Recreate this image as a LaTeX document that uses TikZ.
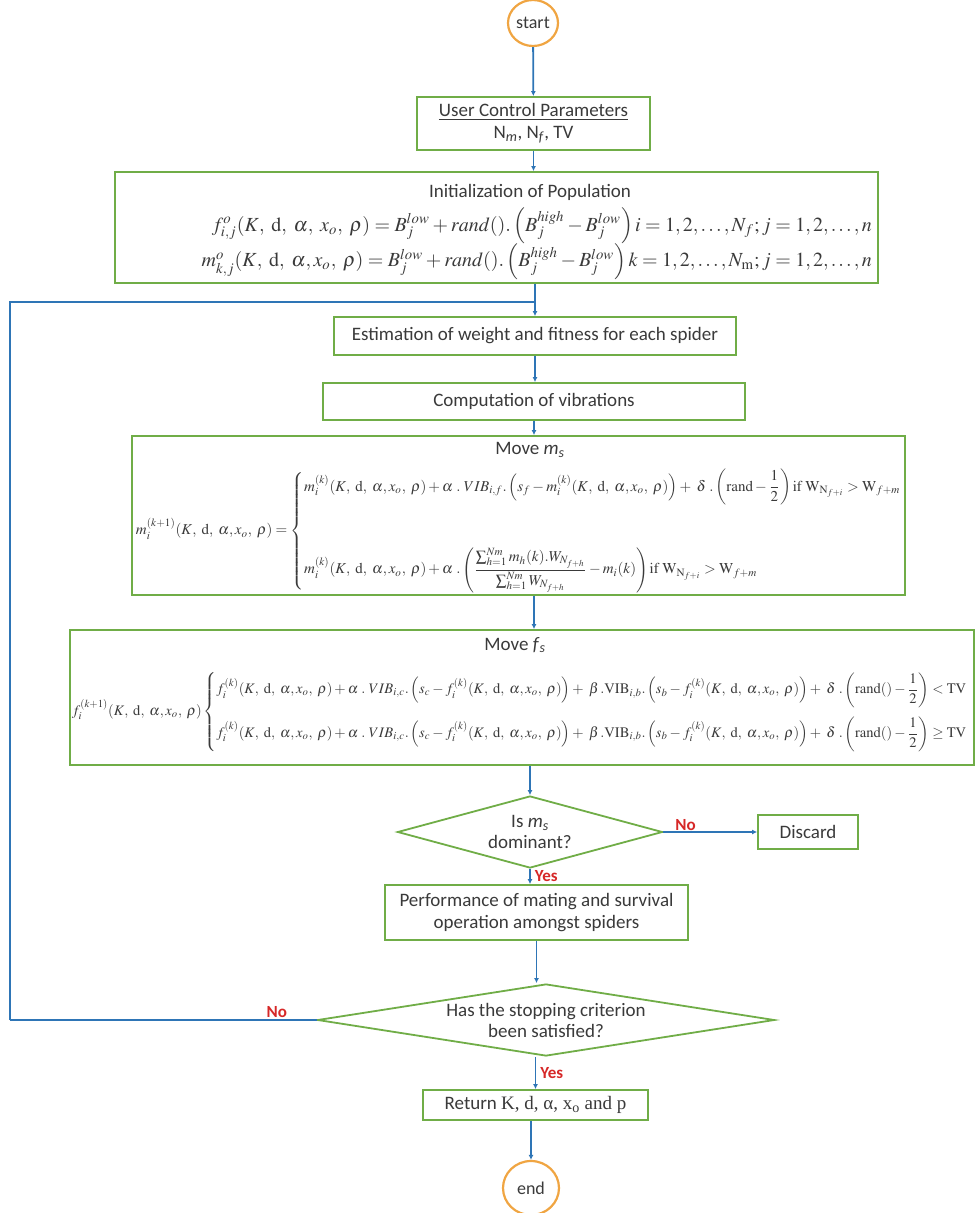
\documentclass[tikz,border=0pt]{standalone}
\usepackage{amsmath,amssymb}
\usepackage{mathptmx}
\usepackage[no-math]{fontspec}
\setmainfont{Carlito}
\newfontfamily\timesfont{Liberation Serif}
\usepackage{tikz}
\usetikzlibrary{arrows.meta,positioning,shapes.geometric,calc}
\definecolor{sogreen}{HTML}{70AD47}
\definecolor{soblue}{HTML}{2E75B6}
\definecolor{soorange}{HTML}{F0A542}
\definecolor{sotext}{HTML}{3A3A3A}
\definecolor{sored}{HTML}{D62828}
\newcommand{\spargs}{(K,\ \mathrm{d},\ \alpha,x_o,\ \rho)}
\tikzset{
  procbox/.style={rectangle, draw=sogreen, line width=1.8pt, fill=white,
                  align=center, text=sotext, font=\fontsize{19}{22}\selectfont, inner sep=2pt},
  decide/.style={diamond, draw=sogreen, line width=1.8pt, fill=white,
                 align=center, text=sotext, font=\fontsize{19}{21}\selectfont, inner sep=0pt},
  term/.style={ellipse, draw=soorange, line width=2.2pt, fill=white,
               text=sotext, font=\fontsize{18}{21}\selectfont, inner sep=0pt},
  lbl/.style={text=sotext, font=\fontsize{19}{22}\selectfont, inner sep=0pt},
  eqn/.style={text=sotext, inner sep=0pt},
  ans/.style={text=sored, font=\bfseries\fontsize{17}{20}\selectfont, inner sep=1pt},
  flow/.style={-{Latex[length=5pt,width=5pt]}, draw=soblue, line width=1.8pt},
  loopline/.style={draw=soblue, line width=1.8pt},
}
\begin{document}
\begin{tikzpicture}[x=1pt,y=1pt]
\useasboundingbox (0,0) rectangle (976,-1213);

\node[term, minimum width=50pt, minimum height=46pt] (start) at (533,-23) {start};
\node[procbox, minimum width=233pt, minimum height=53pt] (ucp) at (533.5,-123.5)
   {\underline{User Control Parameters}\\N\textsubscript{\textit{m}}, N\textsubscript{\textit{f}}, TV};

% initialization
\node[procbox, minimum width=763pt, minimum height=111pt] (init) at (496.5,-227.5) {};
\node[lbl] (inittitle) at (530,-192) {Initialization of Population};
\node[eqn, anchor=east] (initeq) at (872,-244) {\resizebox{670pt}{!}{$\begin{array}{@{}r@{}}
  f^{o}_{i,j}(K,\ \mathrm{d},\ \alpha,\ x_o,\ \rho) = B_j^{low} + rand().\left(B_j^{high} - B_j^{low}\right) i = 1,2,\dots,N_f; j = 1,2,\dots,n\\[2pt]
  m^{o}_{k,j}(K,\ \mathrm{d},\ \alpha,x_o,\ \rho) = B_j^{low} + rand().\left(B_j^{high} - B_j^{low}\right) k = 1,2,\dots,N_{\mathrm{m}}; j = 1,2,\dots,n
\end{array}$}};

\node[procbox, minimum width=402pt, minimum height=38pt] (est) at (535,-336)
   {Estimation of weight and fitness for each spider};
\node[procbox, minimum width=422pt, minimum height=37pt] (comp) at (534,-401.5)
   {Computation of vibrations};

% move males
\node[procbox, minimum width=773pt, minimum height=159pt] (movem) at (518.5,-515.5) {};
\node[lbl] (movemtitle) at (530,-450) {Move \textit{m}\textsubscript{\textit{s}}};
\node[eqn] (movemeq) at (519,-531) {\resizebox{766pt}{!}{$
  m_i^{(k+1)}\spargs = \left\{\begin{array}{@{}l@{}}
  m_i^{(k)}\spargs + \alpha\ .\ VIB_{i,f}.\left(s_f - m_i^{(k)}\spargs\right) +\ \delta\ .\left(\mathrm{rand} - \dfrac{1}{2}\right) \mathrm{if}\ \mathrm{W}_{\mathrm{N}_{f+i}} > \mathrm{W}_{f+m}\\[34pt]
  m_i^{(k)}\spargs + \alpha\ .\left(\dfrac{\sum_{h=1}^{Nm} m_h(k).W_{N_{f+h}}}{\sum_{h=1}^{Nm} W_{N_{f+h}}} - m_i(k)\right)\mathrm{if}\ \mathrm{W}_{\mathrm{N}_{f+i}} > \mathrm{W}_{f+m}
  \end{array}\right.$}};

% move females
\node[procbox, minimum width=904pt, minimum height=135pt] (movef) at (522,-697.5) {};
\node[lbl] (moveftitle) at (515,-645) {Move \textit{f}\textsubscript{\textit{s}}};
\node[eqn] (movefeq) at (520,-712) {\resizebox{896pt}{!}{$
  f_i^{(k+1)}\spargs \left\{\begin{array}{@{}l@{}}
  f_i^{(k)}\spargs + \alpha\ .\ VIB_{i,c}.\left(s_c - f_i^{(k)}\spargs\right) +\ \beta\,.\mathrm{VIB}_{i,b}.\left(s_b - f_i^{(k)}\spargs\right) +\ \delta\ .\left(\mathrm{rand}() - \dfrac{1}{2}\right) < \mathrm{TV}\\[12pt]
  f_i^{(k)}\spargs + \alpha\ .\ VIB_{i,c}.\left(s_c - f_i^{(k)}\spargs\right) +\ \beta\,.\mathrm{VIB}_{i,b}.\left(s_b - f_i^{(k)}\spargs\right) +\ \delta\ .\left(\mathrm{rand}() - \dfrac{1}{2}\right) \geq \mathrm{TV}
  \end{array}\right.$}};

% decisions
\node[decide, aspect=3.5, minimum width=265pt, minimum height=72pt] (dom) at (530,-832)
   {Is \textit{m}\textsubscript{\textit{s}}\\dominant?};
\node[procbox, minimum width=100pt, minimum height=34pt] (discard) at (808,-832) {Discard};
\node[procbox, minimum width=303pt, minimum height=55pt] (perf) at (536.5,-912.5)
   {Performance of mating and survival\\operation amongst spiders};
\node[decide, aspect=5.5, minimum width=457pt, minimum height=72pt] (stop) at (546,-1020)
   {Has the stopping criterion\\been satisfied?};
\node[procbox, minimum width=225pt, minimum height=30pt] (ret) at (535.5,-1105)
   {Return {\timesfont K, d, α, x\textsubscript{o} and p}};
\node[term, minimum width=56pt, minimum height=54pt] (end) at (531,-1188) {end};

\coordinate (loopcorner) at (10,-1020);
\coordinate (join) at (535,-302);

% main flow
\draw[flow] (start) -- (ucp);
\draw[flow] (ucp.south) -- (ucp.south |- init.north);
\draw[flow] (init.south -| est.north) -- (est.north);
\draw[flow] (est.south) -- (est.south |- comp.north);
\draw[flow] (comp.south) -- (comp.south |- movem.north);
\draw[flow] (movem.south -| comp.south) -- (comp.south |- movef.north);
\draw[flow] (movef.south -| dom.north) -- (dom.north);
\draw[flow] (dom.east) -- (discard.west)
   node[ans, pos=0, anchor=south west, xshift=10pt, yshift=-1pt]{No};
\draw[flow] (dom.south) -- (dom.south |- perf.north)
   node[ans, midway, right=3pt]{Yes};
\draw[flow] (perf.south) -- (perf.south |- stop.north);
\draw[flow] (stop.south -| ret.north) -- (ret.north)
   node[ans, midway, right=3pt]{Yes};
\draw[flow] (ret.south -| end.north) -- (end.north);

% loop back
\draw[loopline] (stop.west) -- (loopcorner)
   node[ans, pos=0.13, above]{No};
\draw[loopline] (loopcorner) |- (join);
\end{tikzpicture}
\end{document}
